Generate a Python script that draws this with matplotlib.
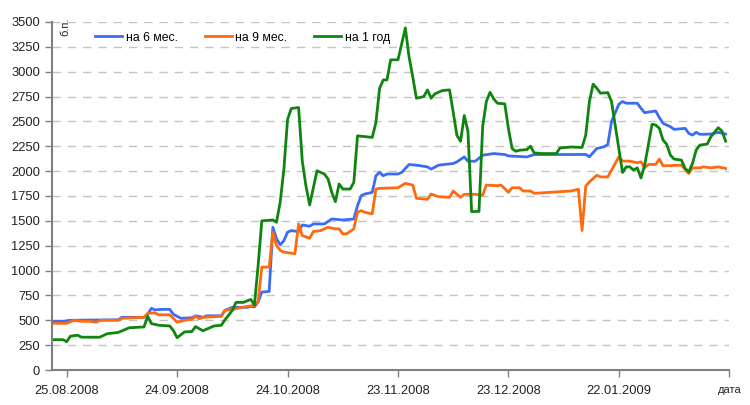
import pandas as pd
import matplotlib
matplotlib.use("Agg")
import matplotlib.pyplot as plt

plt.rcParams["font.family"] = ["Liberation Sans", "DejaVu Sans"]

# days counted from 25.08.2008, spread in basis points
start = pd.Timestamp("2008-08-25")

days_6m = [-4, -1, 1, 14, 15, 21, 22, 23, 24, 26, 28, 29, 31, 34, 35, 37, 38, 42, 43, 44,
           45, 49, 50, 51, 52, 53, 55, 56, 57, 58, 59, 60, 61, 63, 64, 66, 67, 70, 72, 75,
           78, 79, 80, 81, 83, 84, 85, 86, 87, 90, 91, 93, 95, 98, 99, 101, 105, 106, 108, 109,
           111, 113, 116, 119, 120, 125, 127, 137, 141, 142, 144, 146, 147, 148, 150, 151, 152, 155, 156, 157,
           160, 161, 162, 164, 165, 168, 169, 170, 171, 172, 175, 177, 179]
spread_6m = [490, 490, 500, 505, 530, 530, 560, 620, 605, 610, 610, 560, 520, 525, 545, 530, 545, 545, 600, 615,
             630, 630, 640, 635, 683, 784, 790, 1436, 1320, 1259, 1302, 1386, 1402, 1392, 1459, 1446, 1469, 1469, 1519, 1509,
             1519, 1653, 1753, 1770, 1787, 1954, 1988, 1954, 1971, 1971, 1987, 2067, 2060, 2043, 2020, 2060, 2077, 2093, 2143, 2100,
             2100, 2160, 2177, 2167, 2153, 2143, 2167, 2167, 2168, 2144, 2228, 2245, 2269, 2498, 2673, 2700, 2683, 2683, 2632, 2588,
             2605, 2538, 2481, 2447, 2420, 2430, 2380, 2363, 2390, 2370, 2373, 2390, 2373]

days_9m = [-4, 0, 2, 4, 6, 8, 9, 14, 15, 21, 22, 24, 25, 28, 30, 32, 34, 35, 36, 37,
           42, 43, 45, 49, 51, 52, 53, 55, 56, 57, 58, 59, 62, 63, 64, 66, 67, 69, 70, 71,
           73, 74, 75, 76, 78, 79, 80, 81, 83, 84, 85, 90, 92, 94, 95, 98, 99, 101, 104, 105,
           107, 108, 111, 113, 114, 117, 118, 120, 121, 123, 124, 126, 127, 137, 139, 140, 141, 142, 144, 145,
           147, 148, 150, 151, 153, 155, 156, 157, 158, 160, 161, 162, 167, 169, 170, 172, 173, 175, 177, 179]
spread_9m = [470, 470, 500, 490, 490, 480, 500, 500, 520, 530, 570, 575, 555, 555, 480, 500, 510, 540, 515, 530,
             540, 600, 610, 640, 650, 690, 1035, 1035, 1386, 1252, 1202, 1185, 1170, 1469, 1352, 1325, 1392, 1402, 1419, 1436,
             1419, 1420, 1369, 1369, 1419, 1586, 1603, 1586, 1570, 1820, 1827, 1833, 1877, 1860, 1727, 1717, 1770, 1743, 1737, 1800,
             1737, 1767, 1767, 1760, 1860, 1853, 1860, 1787, 1833, 1833, 1800, 1800, 1777, 1800, 1818, 1404, 1850, 1892, 1959, 1942,
             1942, 2010, 2144, 2101, 2101, 2084, 2094, 2033, 2067, 2067, 2121, 2054, 2060, 1976, 2033, 2033, 2043, 2033, 2043, 2027]

days_1y = [-4, -1, 0, 1, 3, 4, 9, 11, 14, 17, 21, 22, 23, 25, 28, 29, 30, 32, 34, 35,
           37, 40, 42, 43, 45, 46, 48, 50, 51, 52, 53, 56, 57, 58, 59, 60, 61, 63, 64, 65,
           66, 68, 70, 71, 72, 73, 74, 75, 77, 78, 79, 83, 84, 85, 86, 87, 88, 90, 92, 93,
           94, 95, 97, 98, 99, 100, 102, 104, 105, 106, 107, 108, 109, 110, 112, 113, 114, 115, 116, 117,
           119, 120, 121, 122, 123, 125, 126, 127, 129, 133, 134, 137, 140, 141, 142, 143, 144, 145, 147, 148,
           149, 150, 151, 152, 153, 154, 155, 156, 157, 158, 159, 160, 161, 162, 163, 164, 165, 167, 168, 169,
           170, 171, 172, 174, 175, 177, 178, 179]
spread_1y = [305, 305, 285, 340, 350, 330, 330, 365, 378, 425, 433, 540, 467, 450, 443, 395, 325, 383, 387, 437,
             395, 443, 450, 505, 600, 680, 680, 710, 655, 1050, 1500, 1509, 1486, 1690, 2020, 2520, 2630, 2640, 2100, 1850,
             1660, 2004, 1971, 1921, 1787, 1693, 1871, 1820, 1820, 1887, 2355, 2339, 2489, 2834, 2917, 2917, 3119, 3120, 3440, 3150,
             2950, 2733, 2750, 2817, 2733, 2777, 2810, 2817, 2593, 2360, 2300, 2560, 2400, 1593, 1595, 2450, 2700, 2793, 2727, 2683,
             2677, 2427, 2227, 2200, 2210, 2217, 2250, 2183, 2177, 2177, 2233, 2243, 2238, 2363, 2700, 2875, 2834, 2784, 2790, 2700,
             2464, 2228, 1986, 2043, 2043, 2010, 2033, 1932, 2060, 2262, 2471, 2464, 2430, 2313, 2269, 2161, 2121, 2111, 2027, 1993,
             2077, 2212, 2262, 2272, 2346, 2437, 2403, 2302]

series = [
    ("на 6 мес.", days_6m, spread_6m, "#3a6cf4"),
    ("на 9 мес.", days_9m, spread_9m, "#ff6a10"),
    ("на 1 год", days_1y, spread_1y, "#0f850f"),
]

fig = plt.figure(figsize=(7.5, 4.05), dpi=100)
ax = fig.add_axes([0.0693, 0.0864, 0.9031, 0.8593])

for name, days, vals, color in series:
    dates = start + pd.to_timedelta(days, unit="D")
    ax.plot(dates, vals, color=color, lw=2, label=name)

# axes
ax.set_ylim(0, 3500)
ax.set_yticks(range(0, 3501, 250))
ax.set_xlim(start - pd.Timedelta(days=4), start + pd.Timedelta(days=180))
tick_dates = [start + pd.Timedelta(days=30 * k) for k in range(7)]
ax.set_xticks(tick_dates)
labels = [d.strftime("%d.%m.%Y") for d in tick_dates[:-1]] + ["дата"]
ax.set_xticklabels(labels)

ax.grid(axis="y", color="#c4c4c4", linestyle=(0, (6, 5)), lw=1)
ax.set_axisbelow(True)
for side in ["top", "right"]:
    ax.spines[side].set_visible(False)
for side in ["left", "bottom"]:
    ax.spines[side].set_color("#808080")
    ax.spines[side].set_linewidth(1.5)
ax.tick_params(axis="both", direction="out", length=5, width=1, labelsize=9.3,
               color="#808080", labelcolor="#222222")
ax.tick_params(axis="x", pad=6)
ax.get_xticklabels()[-1].set_fontsize(8)

ax.text(0.012, 1.012, "б.п.", transform=ax.transAxes, rotation=90, fontsize=8,
        va="top", ha="left", color="#222222")

ax.legend(loc="center left", bbox_to_anchor=(0.064, 0.955), ncol=3, frameon=False,
          fontsize=8.8, handlelength=2.2, handletextpad=0.3, columnspacing=2.2,
          borderpad=0, borderaxespad=0)

plt.savefig("out.png", dpi=100)
